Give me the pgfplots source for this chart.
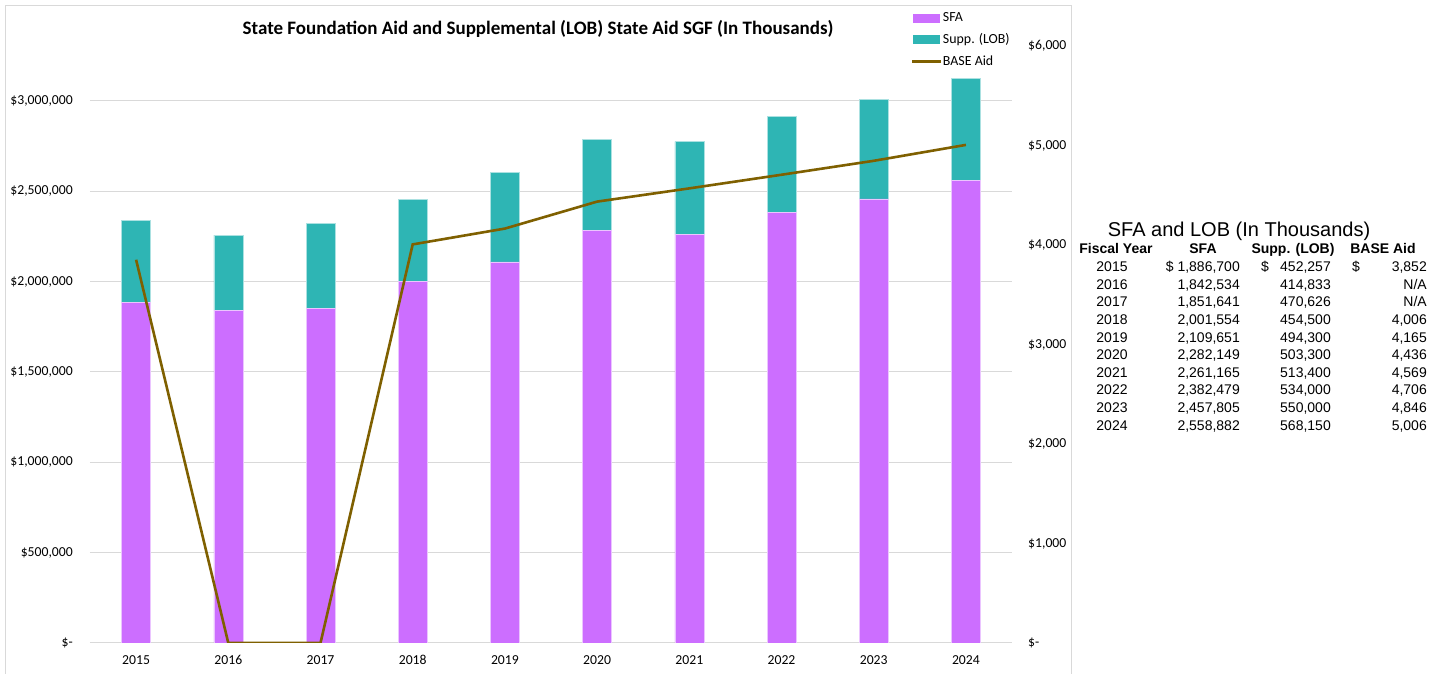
\documentclass[border=0pt]{standalone}
\usepackage{pgfplots}
\pgfplotsset{compat=1.18}
\usetikzlibrary{backgrounds}
\usepackage{fontspec}
\setmainfont{Carlito}
\newfontfamily\arial{Liberation Sans}
\definecolor{sfa}{HTML}{CC6EFF}
\definecolor{lob}{HTML}{2EB5B4}
\definecolor{basec}{HTML}{7F6000}
\definecolor{gridc}{HTML}{D9D9D9}
\begin{document}
\begin{tikzpicture}[x=1pt,y=1pt]
\begin{axis}[
  at={(90pt,31pt)}, anchor=south west, scale only axis,
  width=922pt, height=597pt,
  xmin=-0.5, xmax=9.5, ymin=0, ymax=3304428,
  scaled y ticks=false,
  axis line style={draw=none},
  major tick length=0pt,
  xtick={0,...,9},
  xticklabels={2015,2016,2017,2018,2019,2020,2021,2022,2023,2024},
  ytick={0,500000,1000000,1500000,2000000,2500000,3000000},
  yticklabels={{\$-},{\$500,000},{\$1,000,000},{\$1,500,000},{\$2,000,000},{\$2,500,000},{\$3,000,000}},
  ymajorgrids, grid style={gridc, line width=1pt},
  ticklabel style={font=\fontsize{13.7}{13.7}\selectfont},
  yticklabel style={anchor=east, inner sep=0pt, xshift=-17pt},
  xticklabel style={anchor=north, inner sep=0pt, yshift=-12pt},
  ybar stacked, bar width=29pt,
]
\addplot[fill=sfa, draw=sfa!40!white, line width=0.6pt] coordinates {(0,1886700)(1,1842534)(2,1851641)(3,2001554)(4,2109651)(5,2282149)(6,2261165)(7,2382479)(8,2457805)(9,2558882)};
\addplot[fill=lob, draw=lob!40!white, line width=0.6pt] coordinates {(0,452257)(1,414833)(2,470626)(3,454500)(4,494300)(5,503300)(6,513400)(7,534000)(8,550000)(9,568150)};
\end{axis}
\begin{axis}[
  at={(90pt,31pt)}, anchor=south west, scale only axis,
  width=922pt, height=597pt,
  xmin=-0.5, xmax=9.5, ymin=0, ymax=6000,
  axis line style={draw=none},
  major tick length=0pt,
  xtick=\empty,
  ytick={0,1000,2000,3000,4000,5000,6000},
  yticklabels={{\$-},{\$1,000},{\$2,000},{\$3,000},{\$4,000},{\$5,000},{\$6,000}},
  yticklabel pos=right,
  ticklabel style={font=\fontsize{13.7}{13.7}\selectfont},
  yticklabel style={anchor=west, inner sep=0pt, xshift=16pt},
  legend style={at={(rel axis cs:0.8901,1.057)}, anchor=north west, draw=none, fill=none,
    font=\fontsize{13.9}{13.9}\selectfont, row sep=9.5pt, inner sep=0pt,
    nodes={inner sep=0.5pt}, cells={anchor=west}},
]
\addlegendimage{legend image code/.code={\fill[sfa] (0pt,-4pt) rectangle (26pt,4pt);}}
\addlegendentry{SFA}
\addlegendimage{legend image code/.code={\fill[lob] (0pt,-4pt) rectangle (26pt,4pt);}}
\addlegendentry{Supp. (LOB)}
\addplot[basec, line width=2.6pt, mark=none, legend image code/.code={\draw (-1pt,0pt) -- (28pt,0pt);}] coordinates {(0,3852)(1,0)(2,0)(3,4006)(4,4165)(5,4436)(6,4569)(7,4706)(8,4846)(9,5006)};
\addlegendentry{BASE Aid}
\end{axis}
\node[font=\fontsize{19}{19}\selectfont\bfseries] at (538,645) {State Foundation Aid and Supplemental (LOB) State Aid SGF (In Thousands)};
% table
\begin{scope}[font=\arial\fontsize{14}{14}\selectfont]
\node[font=\arial\fontsize{20}{20}\selectfont, anchor=base] at (1239,437) {SFA and LOB (In Thousands)};
\node[font=\arial\bfseries\fontsize{14}{14}\selectfont, anchor=base] at (1116,420.7) {Fiscal Year};
\node[font=\arial\bfseries\fontsize{14}{14}\selectfont, anchor=base] at (1203,420.7) {SFA};
\node[font=\arial\bfseries\fontsize{14}{14}\selectfont, anchor=base] at (1293,420.7) {Supp. (LOB)};
\node[font=\arial\bfseries\fontsize{14}{14}\selectfont, anchor=base] at (1383,420.7) {BASE Aid};
\foreach \yr/\s/\l/\b [count=\i from 0] in {2015/{\$ 1,886,700}/{452,257}/{3,852}, 2016/{1,842,534}/{414,833}/{N/A}, 2017/{1,851,641}/{470,626}/{N/A}, 2018/{2,001,554}/{454,500}/{4,006}, 2019/{2,109,651}/{494,300}/{4,165}, 2020/{2,282,149}/{503,300}/{4,436}, 2021/{2,261,165}/{513,400}/{4,569}, 2022/{2,382,479}/{534,000}/{4,706}, 2023/{2,457,805}/{550,000}/{4,846}, 2024/{2,558,882}/{568,150}/{5,006}}{
  \pgfmathsetmacro{\yy}{674-271.7-17.6*\i}
  \node[anchor=base, inner sep=0pt] at (1112,\yy) {\yr};
  \node[anchor=base east, inner sep=0pt] at (1240,\yy) {\s};
  \node[anchor=base east, inner sep=0pt] at (1331,\yy) {\l};
  \node[anchor=base east, inner sep=0pt] at (1427,\yy) {\b};
}
\node[anchor=base west, inner sep=0pt] at (1261,402.3) {\$};
\node[anchor=base west, inner sep=0pt] at (1352,402.3) {\$};
\end{scope}
\begin{scope}[on background layer]
\fill[white] (0,0) rectangle (1446,674);
\draw[gridc, line width=1pt] (5.5,-5) rectangle (1071.5,668.5);
\end{scope}
\pgfresetboundingbox
\useasboundingbox (0,0) rectangle (1446,674);
\end{tikzpicture}
\end{document}
